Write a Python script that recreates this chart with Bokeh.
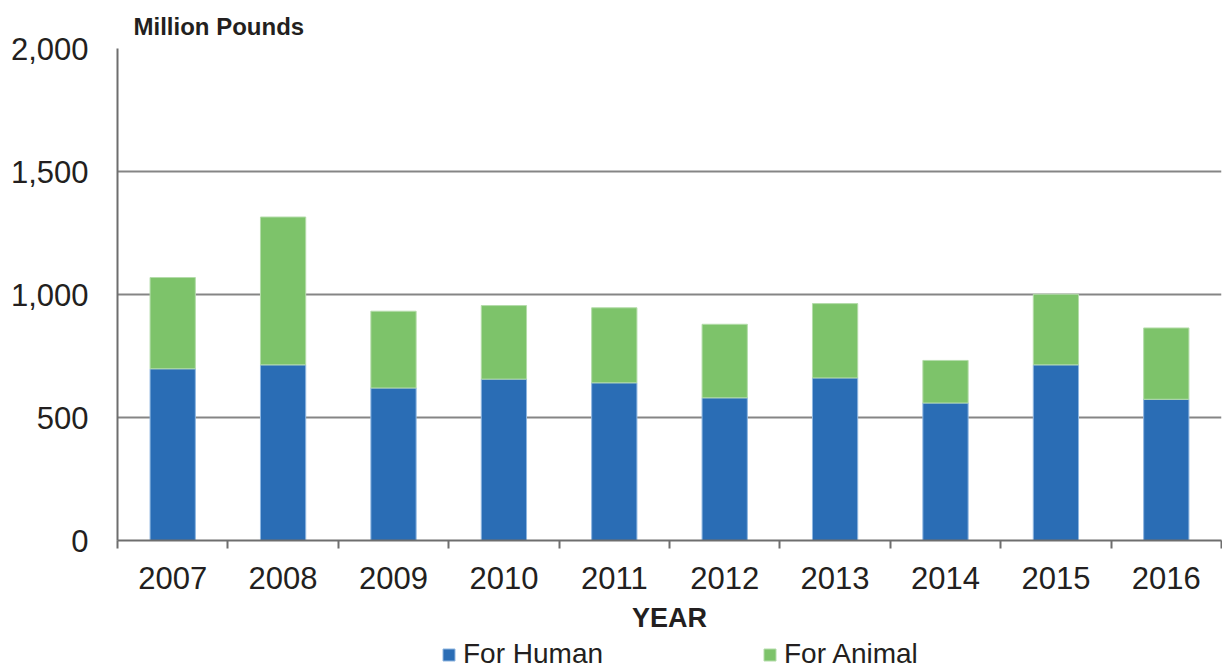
from bokeh.plotting import figure
from bokeh.layouts import column
from bokeh.models import (ColumnDataSource, Range1d, FixedTicker, NumeralTickFormatter,
                          Legend, LegendItem)
from bokeh.embed import file_html
from bokeh.resources import INLINE

years = [2007, 2008, 2009, 2010, 2011, 2012, 2013, 2014, 2015, 2016]
for_human = [698, 714, 620, 656, 641, 580, 661, 559, 714, 574]
for_animal = [371, 601, 312, 299, 305, 299, 302, 173, 287, 290]
y_ticks = [0, 500, 1000, 1500, 2000]
series_names = ["For Human", "For Animal"]
colors = ["#2a6db5", "#7dc36a"]

FONT = "Liberation Sans"
TXT = "#231f20"
GRID = "#858585"

src = ColumnDataSource(dict(year=years, human=for_human, animal=for_animal))

# ---------------- main chart ----------------
p = figure(width=1222, height=638, frame_width=1104, frame_height=492,
           output_backend="svg", toolbar_location=None,
           x_range=Range1d(years[0] - 0.5, years[-1] + 0.5), y_range=Range1d(0, 2000),
           min_border_left=117, min_border_right=1, min_border_top=48, min_border_bottom=98)
p.outline_line_color = None
p.background_fill_color = "white"
p.border_fill_color = "white"

p.vbar_stack(["human", "animal"], x="year", width=0.41, source=src,
             fill_color=colors, line_color=["#8fb6e0", "#b4dcaa"], line_width=1)

p.title.text = "Million Pounds"
p.title.align = "left"
p.title.offset = 16
p.title.standoff = 18
p.title.text_font = FONT
p.title.text_font_size = "24px"
p.title.text_font_style = "bold"
p.title.text_color = TXT

xa = p.xaxis[0]
xa.ticker = FixedTicker(ticks=years, minor_ticks=[y - 0.5 for y in years] + [years[-1] + 0.5])
xa.major_tick_out = 0
xa.major_tick_in = 0
xa.minor_tick_out = 8
xa.minor_tick_in = 0
xa.minor_tick_line_color = "#6e6e6e"
xa.minor_tick_line_width = 2
xa.axis_line_color = "#6e6e6e"
xa.axis_line_width = 2
xa.major_label_text_font = FONT
xa.major_label_text_font_size = "31px"
xa.major_label_text_color = TXT
xa.major_label_standoff = 18
xa.formatter = NumeralTickFormatter(format="0")
xa.axis_label = "YEAR"
xa.axis_label_text_font = FONT
xa.axis_label_text_font_size = "27px"
xa.axis_label_text_font_style = "bold"
xa.axis_label_text_color = TXT
xa.axis_label_standoff = 11

ya = p.yaxis[0]
ya.ticker = FixedTicker(ticks=y_ticks)
ya.formatter = NumeralTickFormatter(format="0,0")
ya.major_tick_out = 0
ya.major_tick_in = 0
ya.major_tick_line_color = None
ya.minor_tick_line_color = None
ya.axis_line_color = "#6e6e6e"
ya.axis_line_width = 2
ya.major_label_text_font = FONT
ya.major_label_text_font_size = "31px"
ya.major_label_text_color = TXT
ya.major_label_standoff = 29

p.xgrid.grid_line_color = None
p.ygrid.grid_line_color = GRID
p.ygrid.grid_line_width = 2
p.ygrid.ticker = FixedTicker(ticks=y_ticks)

# ---------------- legend strip ----------------
q = figure(width=1222, height=30, output_backend="svg", toolbar_location=None,
           x_range=Range1d(years[0] - 0.5, years[-1] + 0.5), y_range=Range1d(3000, 4000),
           x_axis_location=None, y_axis_location=None,
           min_border_left=0, min_border_right=0, min_border_top=0, min_border_bottom=0)
q.outline_line_color = None
q.grid.visible = False
q.background_fill_color = "white"
q.border_fill_color = "white"
leg_renderers = q.vbar_stack(["human", "animal"], x="year", width=0.41, source=src,
                             fill_color=colors, line_color=["#8fb6e0", "#b4dcaa"], line_width=1)

legend = Legend(items=[LegendItem(label=series_names[0], renderers=[leg_renderers[0]]),
                       LegendItem(label=series_names[1], renderers=[leg_renderers[1]])],
                location=(324, -2), orientation="horizontal",
                glyph_width=15, glyph_height=15, label_standoff=7, label_width=299,
                spacing=0, padding=0, margin=0,
                label_text_font=FONT, label_text_font_size="28px", label_text_color=TXT,
                border_line_alpha=0, background_fill_alpha=0)
q.add_layout(legend, "center")

layout = column(p, q, spacing=0)
open("out.html", "w").write(file_html(layout, INLINE))
